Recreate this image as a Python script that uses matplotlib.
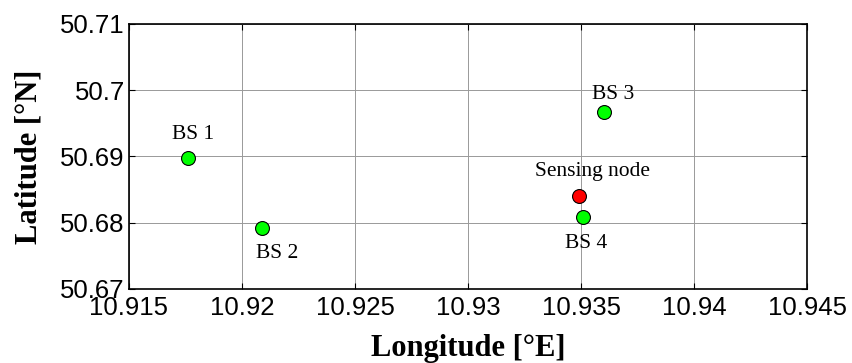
import matplotlib.pyplot as plt

# Base stations and sensing node positions (degrees)
bs_names = ['BS 1', 'BS 2', 'BS 3', 'BS 4']
bs_lon = [10.9176, 10.9209, 10.9360, 10.9351]
bs_lat = [50.6898, 50.6792, 50.6967, 50.6809]

node_name = 'Sensing node'
node_lon = 10.9349
node_lat = 50.6840

x_ticks = [10.915, 10.92, 10.925, 10.93, 10.935, 10.94, 10.945]
y_ticks = [50.67, 50.68, 50.69, 50.70, 50.71]
x_tick_labels = ['10.915', '10.92', '10.925', '10.93', '10.935', '10.94', '10.945']
y_tick_labels = ['50.67', '50.68', '50.69', '50.7', '50.71']

# label offsets in points relative to each marker
bs_offsets = [(4, 17), (11, -18), (7, 13), (2, -19)]
node_offset = (10, 18)

fig = plt.figure(figsize=(8.53, 3.63), dpi=100)
ax = fig.add_axes([0.1512, 0.2039, 0.7949, 0.7300])

ax.plot(bs_lon, bs_lat, 'o', color='#00ff00', markeredgecolor='black',
        markeredgewidth=0.8, markersize=10, zorder=3)
ax.plot([node_lon], [node_lat], 'o', color='#ff0000', markeredgecolor='black',
        markeredgewidth=0.8, markersize=10, zorder=3)

for name, x, y, off in zip(bs_names, bs_lon, bs_lat, bs_offsets):
    ax.annotate(name, (x, y), xytext=off, textcoords='offset points',
                ha='center', va='center', fontsize=15.5, family='Liberation Serif')
ax.annotate(node_name, (node_lon, node_lat), xytext=node_offset, textcoords='offset points',
            ha='center', va='center', fontsize=15.5, family='Liberation Serif')

ax.set_xlim(x_ticks[0], x_ticks[-1])
ax.set_ylim(y_ticks[0], y_ticks[-1])
ax.set_xticks(x_ticks)
ax.set_xticklabels(x_tick_labels, family='Liberation Sans', fontsize=18.5)
ax.set_yticks(y_ticks)
ax.set_yticklabels(y_tick_labels, family='Liberation Sans', fontsize=18.5)
ax.tick_params(direction='in', length=4, width=0.8, top=True, right=True)
ax.tick_params(axis='x', pad=5)
ax.tick_params(axis='y', pad=3)

ax.grid(True, color='#999999', linewidth=0.7)
ax.set_axisbelow(True)
for s in ax.spines.values():
    s.set_linewidth(1.2)

ax.set_xlabel('Longitude [°E]', family='Liberation Serif', fontweight='bold', fontsize=22, labelpad=10)
ax.set_ylabel('Latitude [°N]', family='Liberation Serif', fontweight='bold', fontsize=22, labelpad=12)

fig.savefig('out.png', dpi=100)
